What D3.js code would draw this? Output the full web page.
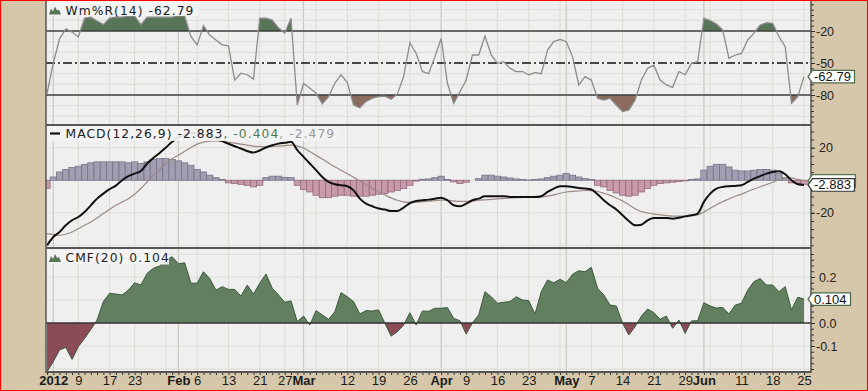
<!DOCTYPE html>
<html><head><meta charset="utf-8">
<script src="https://cdn.jsdelivr.net/npm/d3@7/dist/d3.min.js"></script>
<style>body{margin:0;background:#fff}svg{display:block}</style>
</head><body>
<script>
const dates = ["2011-12-30",
"2012-01-03","2012-01-04","2012-01-05","2012-01-06","2012-01-09","2012-01-10","2012-01-11","2012-01-12","2012-01-13","2012-01-17","2012-01-18","2012-01-19","2012-01-20","2012-01-23","2012-01-24","2012-01-25","2012-01-26","2012-01-27","2012-01-30","2012-01-31",
"2012-02-01","2012-02-02","2012-02-03","2012-02-06","2012-02-07","2012-02-08","2012-02-09","2012-02-10","2012-02-13","2012-02-14","2012-02-15","2012-02-16","2012-02-17","2012-02-21","2012-02-22","2012-02-23","2012-02-24","2012-02-27","2012-02-28","2012-02-29",
"2012-03-01","2012-03-02","2012-03-05","2012-03-06","2012-03-07","2012-03-08","2012-03-09","2012-03-12","2012-03-13","2012-03-14","2012-03-15","2012-03-16","2012-03-19","2012-03-20","2012-03-21","2012-03-22","2012-03-23","2012-03-26","2012-03-27","2012-03-28","2012-03-29","2012-03-30",
"2012-04-02","2012-04-03","2012-04-04","2012-04-05","2012-04-09","2012-04-10","2012-04-11","2012-04-12","2012-04-13","2012-04-16","2012-04-17","2012-04-18","2012-04-19","2012-04-20","2012-04-23","2012-04-24","2012-04-25","2012-04-26","2012-04-27","2012-04-30",
"2012-05-01","2012-05-02","2012-05-03","2012-05-04","2012-05-07","2012-05-08","2012-05-09","2012-05-10","2012-05-11","2012-05-14","2012-05-15","2012-05-16","2012-05-17","2012-05-18","2012-05-21","2012-05-22","2012-05-23","2012-05-24","2012-05-25","2012-05-29","2012-05-30","2012-05-31",
"2012-06-01","2012-06-04","2012-06-05","2012-06-06","2012-06-07","2012-06-08","2012-06-11","2012-06-12","2012-06-13","2012-06-14","2012-06-15","2012-06-18","2012-06-19","2012-06-20","2012-06-21","2012-06-22","2012-06-25"];

const wmr = [-78.4,-50,-27.5,-18,-21,-25.6,-8,-7,-10.6,-14,-8,-7,-7,-6,-6,-14,-7,-7,-7,-7,
-7,-5.5,-6,-25,-33,-15,-23.7,-28.4,-33,-34,-66,-59.6,-61,-65,-8,-8,-9.7,-17,-22,-8,
-89.4,-69,-73.6,-78,-88.4,-81.6,-69,-61,-68.4,-89.4,-92,-86,-83,-81.6,-81,-84,-79,-62.8,-31,-41,
-58,-60,-44,-27,-69,-88,-77,-66,-42.5,-42.5,-24.7,-42.5,-50.3,-48.8,-55,-58,-58,-61,-59,-60,
-37.8,-30,-27.8,-30,-44,-70.6,-62.8,-66,-83,-84.7,-83,-89.4,-95.6,-94,-84.7,-66,-55,-52,-66,-70.6,
-72.8,-58,-61,-50.3,-48.8,-8,-10.3,-13.4,-19,-45.6,-42.5,-41,-28.4,-22,-14.4,-12.2,-12.8,-25.3,-34.7,-87.8,
-81.6,-62.79];

const macd = [-40,-34.9,-31.8,-27.7,-24.6,-22.6,-19.5,-15.4,-11.3,-8.2,-5.5,-3.3,0,2.5,4.1,5.7,10.3,13.7,16.8,20.1,
23.6,26.5,28,29,28.8,28.2,27,25.5,24,22.4,20.9,19.5,18,17,18.3,20.1,21.5,22.5,23,23.6,
18.5,14.4,10.3,6.2,2,-1,-2.5,-3.1,-3.7,-6.2,-11.3,-14.4,-16,-17.4,-18,-18.9,-18.9,-16.8,-14,-12.7,
-12.3,-11.9,-11.3,-10.7,-12.3,-15.4,-16,-14.4,-12.3,-11.3,-9.8,-9.8,-9.8,-9.8,-10.3,-10.3,-10.3,-10.3,-10.3,-9.8,
-7.2,-5.1,-3.7,-3.7,-4.1,-4.7,-5.1,-5.7,-8.6,-12.3,-15.4,-18,-21.5,-25,-27.7,-27.3,-24.6,-23.2,-23.2,-23.2,
-23.6,-23,-22.2,-21.5,-20.5,-13.3,-8.2,-5.1,-4.1,-3.7,-3.5,-3.1,-1,1,2.5,4.1,5.1,5.5,3.7,0,
-2.5,-2.883];

const signal = [-32.8,-33.4,-33.8,-33.2,-31.8,-29.7,-27.7,-25.6,-23.2,-20.5,-17.8,-15.4,-13.3,-11.3,-8.6,-5.1,-1,3.1,6.6,10.3,
13.3,15.4,17.8,20.1,22.2,23.4,24,24.2,23.8,23.3,22.8,22.2,21.6,21,20.6,20.5,20.7,21,21.3,21.6,
21,19.8,17.6,15.3,13,10.6,8.3,6.1,4,1.8,-0.5,-2.8,-5,-7,-9,-10.8,-12.3,-13.3,-13.6,-13.5,
-13.2,-12.9,-12.5,-12.2,-12.2,-12.7,-13,-13,-12.7,-12.3,-12,-11.7,-11.4,-11.1,-10.9,-10.7,-10.6,-10.5,-10.4,-10.3,
-9.8,-9,-8,-7.2,-6.8,-6.6,-6.3,-6.4,-6.9,-8,-9.3,-10.9,-12.7,-15,-17.5,-19.2,-20.1,-20.8,-21.3,-21.7,
-22,-22.1,-22,-21.8,-21.3,-19.6,-17.2,-15,-13.2,-11.5,-9.8,-8.5,-6.9,-5.4,-4,-2.6,-1.2,0.4,1.5,1.5,
0.5,-0.404];

const hist = [-5,2,5.1,6.6,7.8,8.6,9.8,10.7,11.3,11.3,11.3,11.3,11.3,10.7,11.3,10.3,11.3,12.7,13.3,13.3,
12.7,11.9,10.7,9.2,6.6,5.1,3.1,1.6,0.4,-1.6,-2,-2.5,-3.1,-4.1,-3.1,1.6,2.5,2.5,1.8,1.6,
-3.1,-5.7,-7.2,-9.2,-10.7,-10.7,-9.8,-9.2,-9.2,-9.8,-9.8,-9.8,-9.2,-8.6,-8.2,-7.2,-6.2,-5.1,-3.1,-0.5,
0.6,0.8,1.6,2.5,0.4,-1,-2,-1.2,0,1,3.1,3.1,2.5,2,1.4,0.8,0.4,0.2,0.4,0.8,
1.6,2.5,3.1,4.1,3.1,2,1,0.4,-3.1,-4.1,-6.2,-7.8,-9.2,-9.8,-9.2,-7.2,-5.1,-3.1,-2,-1.6,
-1.2,-0.8,-0.4,0.4,0.8,6.2,8.6,9.8,9.8,8.2,6.2,5.7,5.7,6.2,6.6,6.6,6.2,4.1,1.6,-1.6,
-2,-2.479];

const cmf = [-0.212,-0.168,-0.117,-0.106,-0.158,-0.103,-0.067,-0.028,0.013,0.093,0.129,0.126,0.122,0.143,0.175,0.165,0.216,0.238,0.248,0.274,
0.288,0.257,0.262,0.173,0.173,0.223,0.194,0.143,0.158,0.146,0.146,0.117,0.165,0.126,0.173,0.213,0.151,0.122,0.09,0.096,
0.006,0.030,-0.009,0.054,0.035,0.016,0.049,0.132,0.114,0.093,0.039,0.054,0.052,0.057,-0.001,-0.057,-0.038,-0.009,0.045,-0.009,
0.052,0.051,0.064,0.064,0.067,0.020,0.010,-0.048,0.001,0.035,0.136,0.114,0.086,0.090,0.093,0.114,0.1,0.097,0.039,0.136,
0.187,0.175,0.190,0.175,0.212,0.227,0.223,0.242,0.151,0.122,0.078,0.074,-0.001,-0.052,-0.016,0.030,0.061,0.045,0.016,0.030,
-0.023,0.013,-0.045,0.009,0.010,0.088,0.074,0.065,0.068,0.039,0.078,0.086,0.143,0.180,0.193,0.165,0.165,0.136,0.158,0.057,
0.112,0.104];

const tickDates = ["2012-01-03","2012-01-09","2012-01-17","2012-01-23","2012-02-01","2012-02-06","2012-02-13","2012-02-21","2012-02-27","2012-03-01","2012-03-12","2012-03-19","2012-03-26","2012-04-02","2012-04-09","2012-04-16","2012-04-23","2012-05-01","2012-05-07","2012-05-14","2012-05-21","2012-05-29","2012-06-01","2012-06-11","2012-06-18","2012-06-25"];
const tickLabels = ["2012","9","17","23","Feb","6","13","21","27","Mar","12","19","26","Apr","9","16","23","May","7","14","21","29","Jun","11","18","25"];
const boldLabels = ["2012","Feb","Mar","Apr","May","Jun"];
const weekGrid = ["2012-01-09","2012-01-17","2012-01-23","2012-01-30","2012-02-06","2012-02-13","2012-02-21","2012-02-27","2012-03-05","2012-03-12","2012-03-19","2012-03-26","2012-04-09","2012-04-16","2012-04-23","2012-04-30","2012-05-07","2012-05-14","2012-05-21","2012-05-29","2012-06-04","2012-06-11","2012-06-18","2012-06-25"];
const monthGrid = ["2012-01-03","2012-02-01","2012-03-01","2012-04-02","2012-05-01","2012-06-01"];

const wmrTicks = [-20,-50,-80];
const wmrMinor = d3.range(5,-110,-5);
const wmrGrid = [0,-10,-30,-40,-60,-70,-90,-100];
const macdTicks = [20,-20];
const macdMinor = d3.range(30,-45,-5);
const macdGrid = [20,0,-20,-40];
const cmfTicks = [0.2,0.0,-0.1];
const cmfMinor = d3.range(-0.2,0.33,0.025);
const cmfGrid = [0.3,0.2,0.1,-0.1,-0.2];

const legendWmr = ["Wm%R(14) -62.79"];
const legendMacd = ["MACD(12,26,9) -2.883", ", -0.404", ", -2.479"];
const legendCmf = ["CMF(20) 0.104"];

// ---------------- drawing ----------------
const W = 868, H = 391, L = 46, R = 811;
const P = [{t:1,b:125},{t:126,b:248},{t:249,b:372}];
const idx = d => dates.indexOf(d);
const N = dates.length;

const x = d3.scaleLinear().domain([0, N-1]).range([47.04, 47.04 + 6.256*(N-1)]);
const y1 = d3.scaleLinear().domain([-20,-80]).range([31,95]);
const y2 = d3.scaleLinear().domain([20,-20]).range([147.7,212.8]);
const y3 = d3.scaleLinear().domain([0.2,-0.1]).range([277,346]);

const svg = d3.select("body").append("svg").attr("width",W).attr("height",H);
svg.append("rect").attr("width",W).attr("height",H).attr("fill","#d6c7aa");
svg.append("rect").attr("x",L).attr("y",1).attr("width",R-L).attr("height",372-1).attr("fill","#efefef");

const defs = svg.append("defs");
P.forEach((p,k)=>{
  defs.append("clipPath").attr("id","clip"+k).append("rect").attr("x",L).attr("y",p.t).attr("width",R-L).attr("height",p.b-p.t);
});
defs.append("clipPath").attr("id","wAbove").append("rect").attr("x",L).attr("y",0).attr("width",R-L).attr("height",y1(-20));
defs.append("clipPath").attr("id","wBelow").append("rect").attr("x",L).attr("y",y1(-80)).attr("width",R-L).attr("height",125-y1(-80));
defs.append("clipPath").attr("id","cAbove").append("rect").attr("x",L).attr("y",249).attr("width",R-L).attr("height",y3(0)-249);
defs.append("clipPath").attr("id","cBelow").append("rect").attr("x",L).attr("y",y3(0)).attr("width",R-L).attr("height",372-y3(0));

// vertical grid
const grid = svg.append("g");
P.forEach(p=>{
  grid.selectAll(null).data(weekGrid).enter().append("line")
    .attr("x1",d=>x(idx(d))).attr("x2",d=>x(idx(d))).attr("y1",p.t).attr("y2",p.b)
    .attr("stroke","#dcdcd2").attr("stroke-width",1);
  grid.selectAll(null).data(monthGrid).enter().append("line")
    .attr("x1",d=>x(idx(d))).attr("x2",d=>x(idx(d))).attr("y1",p.t).attr("y2",p.b)
    .attr("stroke","#cbcbbf").attr("stroke-width",1.3);
});
// horizontal grid
function hgrid(vals, y){
  grid.selectAll(null).data(vals).enter().append("line")
    .attr("x1",L).attr("x2",R).attr("y1",d=>y(d)).attr("y2",d=>y(d))
    .attr("stroke","#dcdcd6").attr("stroke-width",1);
}
hgrid(wmrGrid,y1); hgrid(macdGrid,y2); hgrid(cmfGrid,y3);

// ---------- Panel 1: Williams %R ----------
const g1 = svg.append("g").attr("clip-path","url(#clip0)");
const line1 = d3.line().x((d,i)=>x(i)).y(d=>y1(d));
g1.append("path").datum(wmr).attr("clip-path","url(#wAbove)")
  .attr("d", d3.area().x((d,i)=>x(i)).y0(y1(-20)).y1(d=>y1(d))).attr("fill","#587558");
g1.append("path").datum(wmr).attr("clip-path","url(#wBelow)")
  .attr("d", d3.area().x((d,i)=>x(i)).y0(y1(-80)).y1(d=>y1(d))).attr("fill","#8a6b5c");
g1.selectAll(null).data([-20,-80]).enter().append("line")
  .attr("x1",L).attr("x2",R).attr("y1",d=>y1(d)).attr("y2",d=>y1(d)).attr("stroke","#3c3c3c").attr("stroke-width",1.5);
g1.append("line").attr("x1",L).attr("x2",R).attr("y1",y1(-50)).attr("y2",y1(-50))
  .attr("stroke","#111").attr("stroke-width",1.4).attr("stroke-dasharray","9,3,2,3");
g1.append("path").datum(wmr).attr("d",line1).attr("fill","none").attr("stroke","#8c8c8c").attr("stroke-width",1.3);

// ---------- Panel 2: MACD ----------
const g2 = svg.append("g").attr("clip-path","url(#clip1)");
const bw = x(1)-x(0);
g2.selectAll(null).data(hist).enter().append("rect")
  .attr("x",(d,i)=>x(i)-bw/2).attr("width",bw)
  .attr("y",d=>Math.min(y2(d),y2(0))).attr("height",d=>Math.abs(y2(d)-y2(0)))
  .attr("fill",d=>d>=0?"#a29eb2":"#c99aab")
  .attr("stroke",d=>d>=0?"#77728a":"#936a7c").attr("stroke-width",0.8);
g2.append("path").datum(signal).attr("d",d3.line().curve(d3.curveMonotoneX).x((d,i)=>x(i)).y(d=>y2(d)))
  .attr("fill","none").attr("stroke","#9c8a80").attr("stroke-width",1.2);
g2.append("path").datum(macd).attr("d",d3.line().curve(d3.curveMonotoneX).x((d,i)=>x(i)).y(d=>y2(d)))
  .attr("fill","none").attr("stroke","#111").attr("stroke-width",2);

// ---------- Panel 3: CMF ----------
const g3 = svg.append("g").attr("clip-path","url(#clip2)");
const area3 = d3.area().x((d,i)=>x(i)).y0(y3(0)).y1(d=>y3(d));
g3.append("path").datum(cmf).attr("clip-path","url(#cAbove)").attr("d",area3).attr("fill","#62805f");
g3.append("path").datum(cmf).attr("clip-path","url(#cBelow)").attr("d",area3).attr("fill","#8b4b58");
g3.append("path").datum(cmf).attr("d",d3.line().x((d,i)=>x(i)).y(d=>y3(d)))
  .attr("fill","none").attr("stroke","#3b5a3b").attr("stroke-width",1);
g3.append("line").attr("x1",L).attr("x2",R).attr("y1",y3(0)).attr("y2",y3(0)).attr("stroke","#333").attr("stroke-width",1.5);

// ---------- panel borders ----------
[125,248,372].forEach(yy=>{
  svg.append("line").attr("x1",L).attr("x2",R).attr("y1",yy).attr("y2",yy).attr("stroke","#555").attr("stroke-width",2);
});
svg.append("line").attr("x1",L).attr("x2",L).attr("y1",1).attr("y2",373).attr("stroke","#555").attr("stroke-width",1.5);
svg.append("line").attr("x1",R).attr("x2",R).attr("y1",1).attr("y2",373).attr("stroke","#555").attr("stroke-width",1.5);

// ---------- right axes ----------
const fmtPlain = d => (Math.abs(d)<1 ? d.toFixed(1) : String(d));
function rightAxis(y, minor, major){
  const gm = svg.append("g").attr("transform",`translate(${R},0)`)
    .call(d3.axisRight(y).tickValues(minor).tickSize(3).tickFormat(""));
  gm.select(".domain").remove();
  gm.selectAll("line").attr("stroke","#333");
  const gM = svg.append("g").attr("transform",`translate(${R},0)`)
    .call(d3.axisRight(y).tickValues(major).tickSize(4).tickFormat(fmtPlain));
  gM.select(".domain").remove();
  gM.selectAll("line").attr("stroke","#333");
  gM.selectAll("text").attr("x",d=>d<0?5:8).attr("fill","#222")
    .style("font-family","'Liberation Sans', Arial, sans-serif").style("font-size","12.5px");
}
rightAxis(y1, wmrMinor.filter(v=>y1(v)>2 && y1(v)<124), wmrTicks);
rightAxis(y2, macdMinor.filter(v=>y2(v)>127 && y2(v)<247), macdTicks);
rightAxis(y3, cmfMinor.filter(v=>y3(v)>250 && y3(v)<371), cmfTicks);

// ---------- bottom axis ----------
const gx = svg.append("g").attr("transform","translate(0,373)")
  .call(d3.axisBottom(x).tickValues(d3.range(N)).tickSize(2).tickFormat(""));
gx.select(".domain").remove();
gx.selectAll("line").attr("stroke","#333");
const gl = svg.append("g").attr("transform","translate(0,373)")
  .call(d3.axisBottom(x).tickValues(tickDates.map(idx)).tickSize(0).tickPadding(3)
    .tickFormat((d,i)=>tickLabels[i]));
gl.select(".domain").remove();
gl.selectAll("text").attr("fill","#1a1a1a")
  .style("font-family","'Liberation Sans', Arial, sans-serif").style("font-size","13px")
  .style("font-weight",(d,i)=>boldLabels.includes(tickLabels[i])?"bold":"normal");

// ---------- legends ----------
const lfont = "'DejaVu Sans', Verdana, sans-serif";
function legendBg(x0,y0,w,h){
  svg.append("rect").attr("x",x0).attr("y",y0).attr("width",w).attr("height",h).attr("fill","#f3f3f3").attr("opacity",0.92);
}
legendBg(47,1,152,15);
legendBg(47,126,290,15);
legendBg(47,249.5,122,15);
function mountain(yb){
  svg.append("path").attr("d",`M49,${yb} L51,${yb-6} L53,${yb-3} L55,${yb-8} L57,${yb-4} L59,${yb-5} L61,${yb} Z`).attr("fill","#587558");
}
mountain(14.5);
mountain(262);
svg.append("line").attr("x1",50).attr("x2",60).attr("y1",133.5).attr("y2",133.5).attr("stroke","#111").attr("stroke-width",2.2);

function legendText(yb, parts, colors){
  const t = svg.append("text").attr("x",65.5).attr("y",yb)
    .style("font-family",lfont).style("font-size","12.3px").style("letter-spacing","1.05px");
  parts.forEach((p,i)=>t.append("tspan").text(p).attr("fill",colors[i]));
}
legendText(15, legendWmr, ["#222"]);
legendText(138.3, legendMacd, ["#222","#4f7a4f","#9a9a9a"]);
legendText(262, legendCmf, ["#222"]);

// ---------- value boxes ----------
function boxShape(yc, stroke, w){
  svg.append("path").attr("d",`M${R-3},${yc} L${R+1.5},${yc-6.3} H${R+1.5+w} V${yc+6.3} H${R+1.5} Z`)
    .attr("fill","#fff").attr("stroke",stroke).attr("stroke-width",1.2);
}
function valueBox(yc, txt, stroke, w){
  boxShape(yc, stroke, w);
  svg.append("text").attr("x",R+3).attr("y",yc+4.5).text(txt).attr("fill","#111")
    .style("font-family","'Liberation Sans', Arial, sans-serif").style("font-size","13px");
}
valueBox(y1(wmr[N-1]), "-62.79", "#4b6b4b", 42);
boxShape(y2(signal[N-1]), "#4f7a4f", 43);   // signal marker, mostly hidden behind the MACD box
valueBox(y2(macd[N-1]), "-2.883", "#333", 42);
valueBox(y3(cmf[N-1]), "0.104", "#4b6b4b", 38);

// red frame
svg.append("rect").attr("x",0.5).attr("y",0.5).attr("width",W-1).attr("height",H-1).attr("fill","none").attr("stroke","#f00").attr("stroke-width",1);
</script>
</body></html>
